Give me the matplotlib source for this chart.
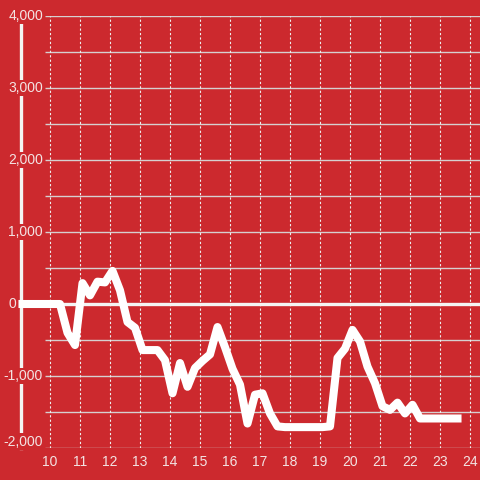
import matplotlib.pyplot as plt

# 15-minute readings through the day
times = ["09:05", "09:20", "09:35", "09:50", "10:05", "10:20", "10:35", "10:50",
         "11:05", "11:20", "11:35", "11:50", "12:05", "12:20", "12:35", "12:50",
         "13:05", "13:20", "13:35", "13:50", "14:05", "14:20", "14:35", "14:50",
         "15:05", "15:20", "15:35", "15:50", "16:05", "16:20", "16:35", "16:50",
         "17:05", "17:20", "17:35", "17:50", "18:05", "18:20", "18:35", "18:50",
         "19:05", "19:20", "19:35", "19:50", "20:05", "20:20", "20:35", "20:50",
         "21:05", "21:20", "21:35", "21:50", "22:05", "22:20", "22:35", "22:50",
         "23:05", "23:20", "23:35"]
values = [0, 0, 0, 0, 0, 0, -400, -570,
          290, 120, 310, 300, 460, 190, -250, -330,
          -640, -640, -640, -780, -1240, -820, -1150, -890,
          -790, -700, -320, -600, -900, -1120, -1660, -1260,
          -1240, -1520, -1700, -1710, -1710, -1710, -1710, -1710,
          -1710, -1700, -750, -620, -360, -520, -870, -1100,
          -1420, -1470, -1370, -1520, -1400, -1590, -1590, -1590,
          -1590, -1590, -1590]

x_ticks = list(range(10, 25))
y_ticks = [4000, 3000, 2000, 1000, 0, -1000, -2000]
y_labels = ["4,000", "3,000", "2,000", "1,000", "0", "-1,000", "-2,000"]
y_grid = list(range(-2000, 4001, 500))

hours = [int(t[:2]) + int(t[3:]) / 60 for t in times]

bg = "#cc292e"
label_col = "#f3e3e3"
grid_col = "#d6d0d0"

plt.rcParams['font.family'] = ['Liberation Sans', 'DejaVu Sans']

fig = plt.figure(figsize=(4.8, 4.8), dpi=100, facecolor=bg)
ax = fig.add_axes([20 / 480, 32 / 480, 460 / 480, 432 / 480])
ax.set_facecolor(bg)
ax.set_xlim(9.0, 24 + 1 / 3)
ax.set_ylim(-2000, 4000)
ax.axis('off')

# grid
ax.hlines(y_grid, 9 + 5 / 6, 24 + 1 / 3, colors=grid_col, lw=1.0, zorder=1)
ax.vlines(x_ticks, -2000, 4000, colors="#eeeeee", lw=0.8,
          linestyles=(0, (2, 2)), zorder=1)

# zero line and left axis
ax.axhline(0, color="#f4f4f4", lw=2.4, zorder=2)
ax.axvline(9.03, color="#f4f4f4", lw=2.4, zorder=2, clip_on=False)

# data
ax.plot(hours, values, color="white", lw=5.8, zorder=5, clip_on=False)

for v, lab in zip(y_ticks, y_labels):
    yy = v + 90 if v == -2000 else v
    xx = 9 - 4 / 30 if v == 0 else 9 + 23 / 30
    ax.text(xx, yy, lab, ha='right', va='center', fontsize=10,
            color=label_col, zorder=4, clip_on=False,
            bbox=dict(facecolor=bg, edgecolor='none', pad=1.0))

for h in x_ticks:
    ax.text(h, -2000 - 14 / 72 * 1000, str(h), ha='center', va='center',
            fontsize=10, color=label_col, clip_on=False)

fig.savefig("out.png", dpi=100, facecolor=bg)
